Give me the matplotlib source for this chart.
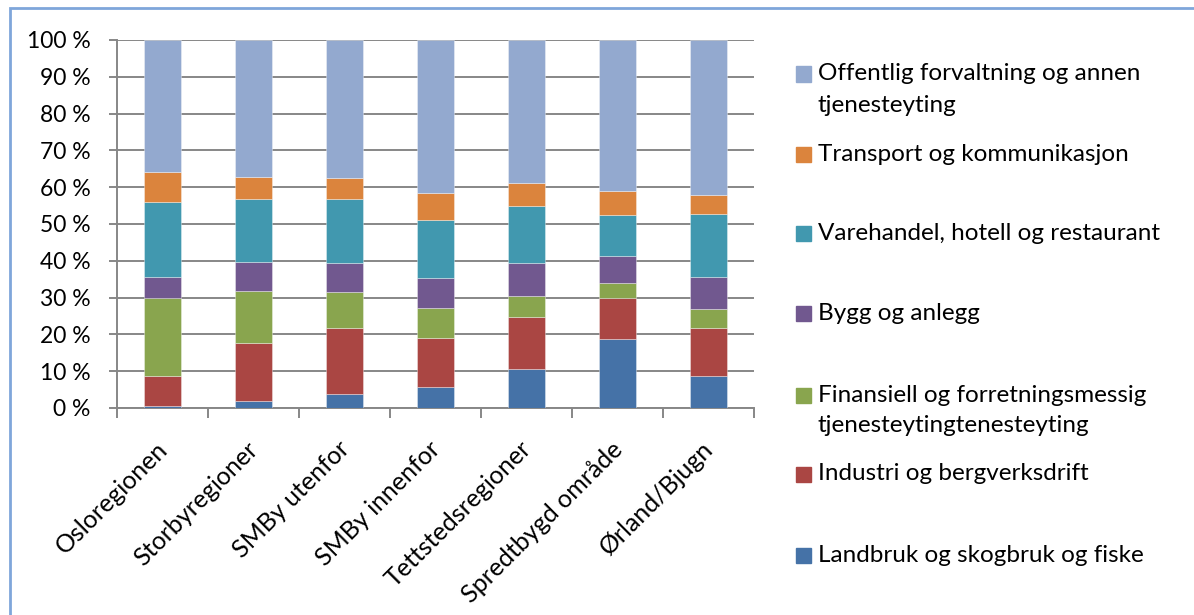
import matplotlib.pyplot as plt
import numpy as np
from matplotlib.patches import Rectangle
from matplotlib.transforms import ScaledTranslation

plt.rcParams['font.family'] = ['Lato', 'DejaVu Sans']

# Regions on the x axis
regions = ["Osloregionen", "Storbyregioner", "SMBy utenfor", "SMBy innenfor",
           "Tettstedsregioner", "Spredtbygd område", "Ørland/Bjugn"]

# Share of employment (%) per sector, bottom to top
landbruk = [0.6, 2.0, 3.8, 5.8, 10.6, 18.7, 8.8]
industri = [8.0, 15.6, 18.0, 13.3, 14.2, 11.3, 13.0]
finansiell = [21.4, 14.2, 9.7, 8.2, 5.7, 4.1, 5.1]
bygg = [5.7, 7.8, 8.0, 7.9, 8.8, 7.3, 8.8]
varehandel = [20.3, 17.2, 17.3, 15.9, 15.6, 11.0, 17.1]
transport = [8.1, 6.1, 5.7, 7.2, 6.2, 6.5, 5.1]
offentlig = [35.9, 37.1, 37.5, 41.7, 38.9, 41.1, 42.1]

series = [landbruk, industri, finansiell, bygg, varehandel, transport, offentlig]
labels = ["Landbruk og skogbruk og fiske",
          "Industri og bergverksdrift",
          "Finansiell og forretningsmessig\ntjenesteytingtenesteyting",
          "Bygg og anlegg",
          "Varehandel, hotell og restaurant",
          "Transport og kommunikasjon",
          "Offentlig forvaltning og annen\ntjenesteyting"]
colors = ["#4572A7", "#AA4643", "#89A54E", "#71588F", "#4198AF", "#DB843D", "#93A9CF"]

W, H = 1194, 615
fig = plt.figure(figsize=(W / 100, H / 100), dpi=100)
ax = fig.add_axes([117 / W, 1 - 408 / H, (754 - 117) / W, (408 - 40) / H])

# outer chart frame (light blue), only left and top edges show
fig.patches.append(Rectangle((10 / W, -0.1), 1.2, 1.1 - 8 / H, transform=fig.transFigure,
                             fill=False, edgecolor="#7FA6DA", linewidth=2))

x = np.arange(len(regions))
bottom = np.zeros(len(regions))
for vals, col in zip(series, colors):
    ax.bar(x, vals, 0.4, bottom=bottom, color=col, edgecolor=(1, 1, 1, 0.5), linewidth=0.5, zorder=3)
    bottom += np.array(vals)

grey = "#878787"
ax.set_xlim(-0.5, len(regions) - 0.5)
ax.set_ylim(0, 100)
ax.set_yticks(np.arange(0, 101, 10))
ax.set_yticklabels([f"{v} %" for v in range(0, 101, 10)], fontsize=16.5)
ax.yaxis.grid(True, color=grey, linewidth=1.4, zorder=0)
ax.set_axisbelow(True)
ax.tick_params(axis='y', length=6, width=1.4, color=grey, pad=13)

ax.set_xticks(x)
ax.set_xticklabels(regions, rotation=45, ha='right', rotation_mode='anchor', fontsize=18)
ax.tick_params(axis='x', which='major', length=0, pad=21)
ax.set_xticks(np.arange(-0.5, len(regions), 1), minor=True)
ax.tick_params(axis='x', which='minor', length=7, width=1.4, color=grey)
off = ScaledTranslation(-7 / 100, 0, fig.dpi_scale_trans)
for lab in ax.get_xticklabels():
    lab.set_transform(lab.get_transform() + off)

for s in ['top', 'right']:
    ax.spines[s].set_visible(False)
for s in ['left', 'bottom']:
    ax.spines[s].set_color(grey)
    ax.spines[s].set_linewidth(1.4)

# legend, top series first, placed like the Excel original
entry_y = [74, 154, 233, 313, 395, 474, 555]
for yy, lab, col in zip(entry_y, labels[::-1], colors[::-1]):
    fig.patches.append(Rectangle((796 / W, 1 - (yy + 7.5) / H), 15 / W, 15 / H,
                                 transform=fig.transFigure, color=col))
    for i, line in enumerate(lab.split("\n")):
        fig.text(818 / W, 1 - (yy + i * 31) / H, line, fontsize=17.5, va='center', ha='left')

fig.savefig("out.png", dpi=100)
